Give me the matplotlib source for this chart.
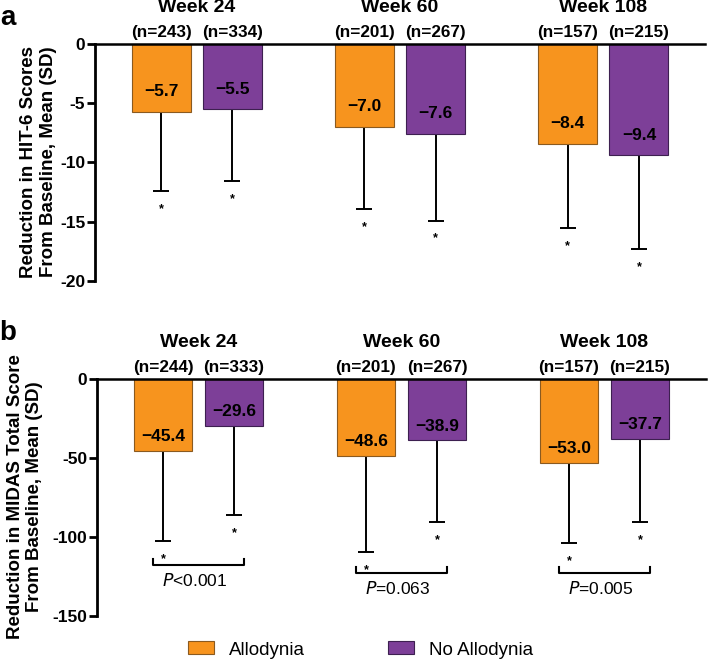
import numpy as np
import matplotlib
matplotlib.use("Agg")
import matplotlib.pyplot as plt
from matplotlib.patches import Patch

plt.rcParams["font.family"] = ["Liberation Sans", "DejaVu Sans"]
plt.rcParams["axes.unicode_minus"] = False

weeks = ["Week 24", "Week 60", "Week 108"]
groups = ["Allodynia", "No Allodynia"]
colors = ["#F7941E", "#7D3F98"]
edges = ["#8a5a20", "#3d2050"]

# panel a: HIT-6
hit_mean = [[-5.7, -7.0, -8.4], [-5.5, -7.6, -9.4]]
hit_sd = [[6.7, 6.9, 7.1], [6.1, 7.3, 7.9]]
hit_n = [[243, 201, 157], [334, 267, 215]]

# panel b: MIDAS
midas_mean = [[-45.4, -48.6, -53.0], [-29.6, -38.9, -37.7]]
midas_sd = [[57.1, 60.9, 50.8], [56.5, 51.6, 52.8]]
midas_n = [[244, 201, 157], [333, 267, 215]]
p_labels = ["<0.001", "=0.063", "=0.005"]
bracket_y = [-117.7, -122.8, -122.8]

fig = plt.figure(figsize=(7.08, 6.61), dpi=100)
ax_a = fig.add_axes([95 / 708, 1 - 281 / 661, 610 / 708, 237 / 661])
ax_b = fig.add_axes([97 / 708, 1 - 616 / 661, 609 / 708, 237 / 661])

x = np.arange(len(weeks))
off = 0.175
w = 0.29


def draw(ax, means, sds, ns, ylim, ticks, lab_off):
    for g in range(2):
        xs = x + (g * 2 - 1) * off
        m = np.array(means[g])
        s = np.array(sds[g])
        ax.bar(xs, m, width=w, color=colors[g], edgecolor=edges[g], linewidth=0.8, zorder=2)
        ax.errorbar(xs, m, yerr=[s, np.zeros_like(s)], fmt="none", ecolor="black",
                    elinewidth=1.4, capsize=5.5, capthick=1.4, zorder=1)
        for i in range(len(weeks)):
            ax.annotate("\u2212" + f"{abs(m[i]):.1f}", xy=(xs[i], m[i]), xytext=(0, lab_off),
                        textcoords="offset points", ha="center", va="center",
                        fontsize=12.5, fontweight="bold", zorder=3)
            ax.annotate("*", xy=(xs[i], m[i] - s[i]), xytext=(0, -13),
                        textcoords="offset points", ha="center", va="center",
                        fontsize=9, fontweight="bold")
            ax.annotate(f"(n={ns[g][i]})", xy=(xs[i], 1), xycoords=("data", "axes fraction"),
                        xytext=(0, 8.5), textcoords="offset points", ha="center", va="center",
                        fontsize=12.3, fontweight="bold", annotation_clip=False)
    for i in range(len(weeks)):
        ax.annotate(weeks[i], xy=(x[i], 1), xycoords=("data", "axes fraction"),
                    xytext=(0, 26), textcoords="offset points", ha="center", va="center",
                    fontsize=14, fontweight="bold", annotation_clip=False)
    ax.set_xlim(-0.5, 2.5)
    ax.set_ylim(*ylim)
    ax.set_yticks(ticks)
    ax.set_yticklabels([str(t) for t in ticks], fontweight="bold", fontsize=12.5)
    ax.set_xticks([])
    for sp in ["right", "bottom"]:
        ax.spines[sp].set_visible(False)
    ax.spines["left"].set_linewidth(2)
    ax.spines["top"].set_linewidth(1.8)
    ax.tick_params(axis="y", direction="out", length=6, width=2, pad=1)


draw(ax_a, hit_mean, hit_sd, hit_n, (-20, 0), [0, -5, -10, -15, -20], 14.5)
draw(ax_b, midas_mean, midas_sd, midas_n, (-150, 0), [0, -50, -100, -150], 10)

fig.text(38.5 / 708, 1 - 162 / 661, "Reduction in HIT-6 Scores\nFrom Baseline, Mean (SD)",
         rotation=90, ha="center", va="center", fontsize=13.5, fontweight="bold", linespacing=1.22)
fig.text(25 / 708, 1 - 497 / 661, "Reduction in MIDAS Total Score\nFrom Baseline, Mean (SD)",
         rotation=90, ha="center", va="center", fontsize=13.5, fontweight="bold", linespacing=1.22)

# brackets with P values
for i in range(len(weeks)):
    yb = bracket_y[i]
    x0, x1 = x[i] - 0.222, x[i] + 0.222
    ax_b.plot([x0, x0, x1, x1], [yb + 3.5, yb, yb, yb + 3.5], color="black", lw=1.5, clip_on=False)
    ax_b.annotate("$\\it{P}$" + p_labels[i], xy=(x[i] - 0.02, yb), xytext=(0, -11),
                  textcoords="offset points", ha="center", va="center", fontsize=12.5)

fig.text(8 / 708, 1 - 18 / 661, "a", fontsize=20, fontweight="bold", ha="center", va="center")
fig.text(8 / 708, 1 - 333 / 661, "b", fontsize=20, fontweight="bold", ha="center", va="center")

handles = [Patch(facecolor=colors[g], edgecolor=edges[g], linewidth=0.8) for g in range(2)]
fig.legend(handles, groups, loc="center left", bbox_to_anchor=(188 / 708, 1 - 650 / 661), ncol=2,
           frameon=False, fontsize=13.5, handlelength=1.39, handleheight=0.69,
           columnspacing=4.4, handletextpad=0.8, borderpad=0, borderaxespad=0)

fig.savefig("out.png", dpi=100)
